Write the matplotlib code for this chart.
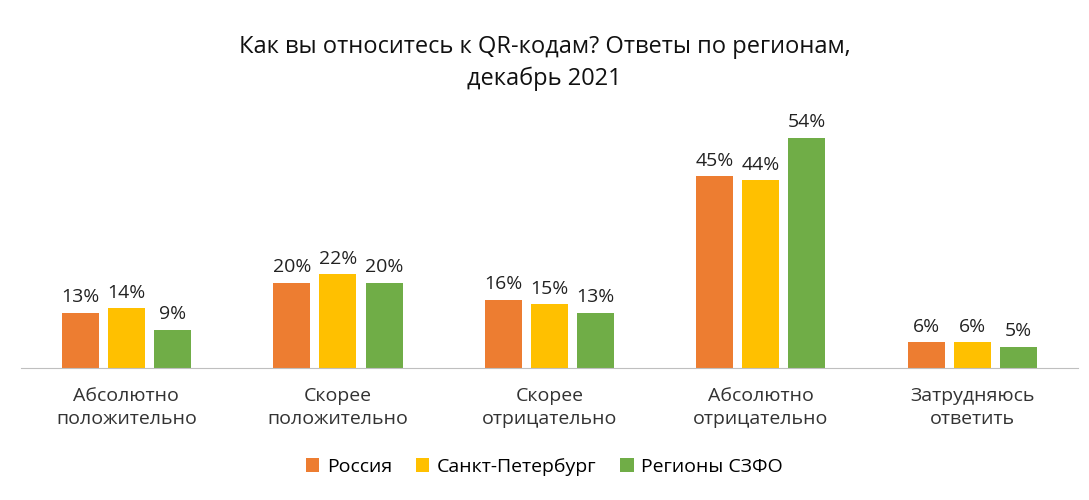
import matplotlib
matplotlib.use("Agg")
import matplotlib.pyplot as plt
import numpy as np

plt.rcParams["font.family"] = "Open Sans"

categories = ["Абсолютно\nположительно", "Скорее\nположительно", "Скорее\nотрицательно",
              "Абсолютно\nотрицательно", "Затрудняюсь\nответить"]
series_names = ["Россия", "Санкт-Петербург", "Регионы СЗФО"]
russia = [13, 20, 16, 45, 6]
spb = [14, 22, 15, 44, 6]
szfo = [9, 20, 13, 54, 5]
colors = ["#ED7D31", "#FFC000", "#70AD47"]

fig = plt.figure(figsize=(10.89, 5.0), dpi=100)
ax = fig.add_axes([0.019, 0.264, 0.971, 0.512])
x = np.arange(len(categories))
w = 0.175
off = 0.218
for i, (vals, name, c) in enumerate(zip([russia, spb, szfo], series_names, colors)):
    bars = ax.bar(x + (i - 1) * off, vals, w, color=c, label=name)
    for b, v in zip(bars, vals):
        ax.text(b.get_x() + b.get_width() / 2, v + 1.5, f"{v}%", ha="center", va="bottom",
                fontsize=14, color="#222222")
ax.set_xlim(-0.5, len(categories) - 0.5)
ax.set_ylim(0, 60)
ax.set_yticks([])
for s in ["top", "right", "left"]:
    ax.spines[s].set_visible(False)
ax.spines["bottom"].set_color("#BFBFBF")
ax.set_xticks(x)
ax.set_xticklabels(categories, fontsize=14, color="#333333", linespacing=1.3)
ax.tick_params(axis="x", length=0, pad=14)
fig.suptitle("Как вы относитесь к QR-кодам? Ответы по регионам,\nдекабрь 2021",
             y=0.93, fontsize=17, color="#111111", linespacing=1.4)
fig.legend(loc="center", bbox_to_anchor=(0.5, 0.066), ncol=3, frameon=False,
           fontsize=14, handlelength=0.7, handleheight=0.7, columnspacing=1.2, handletextpad=0.4)
fig.savefig("out.png", dpi=100)
